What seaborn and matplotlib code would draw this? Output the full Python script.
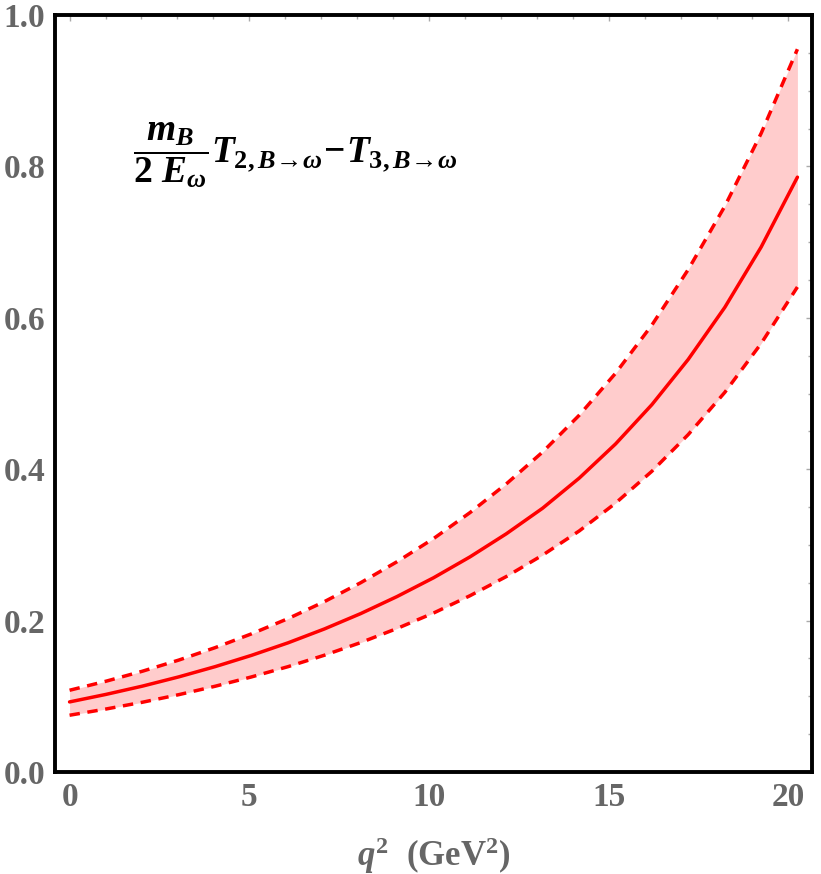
import numpy as np
import pandas as pd
import matplotlib
matplotlib.use("Agg")
import matplotlib.pyplot as plt
import seaborn as sns
from matplotlib.ticker import MultipleLocator

# q^2 points (GeV^2)
q2 = [0.0, 1.01, 2.03, 3.04, 4.05, 5.06, 6.08, 7.09, 8.1, 9.11, 10.13,
      11.14, 12.15, 13.16, 14.18, 15.19, 16.2, 17.21, 18.23, 19.24, 20.25]

central = [0.0926, 0.1025, 0.1135, 0.1257, 0.1392, 0.1541, 0.1707, 0.1890,
           0.2093, 0.2318, 0.2567, 0.2842, 0.3147, 0.3485, 0.3883, 0.4334,
           0.4853, 0.5450, 0.6139, 0.6935, 0.7859]
upper = [0.1080, 0.1199, 0.1332, 0.1479, 0.1643, 0.1825, 0.2027, 0.2251,
         0.2501, 0.2778, 0.3085, 0.3427, 0.3806, 0.4227, 0.4714, 0.5268,
         0.5904, 0.6637, 0.7475, 0.8437, 0.9550]
lower = [0.0750, 0.0832, 0.0922, 0.1022, 0.1133, 0.1256, 0.1392, 0.1543,
         0.1710, 0.1896, 0.2101, 0.2329, 0.2582, 0.2865, 0.3185, 0.3552,
         0.3973, 0.4457, 0.5016, 0.5661, 0.6408]

df = pd.DataFrame({"q2": q2, "central": central, "upper": upper, "lower": lower})

sns.set_style("white")
plt.rcParams["font.family"] = ["Liberation Serif", "DejaVu Serif"]
plt.rcParams["font.weight"] = "bold"
plt.rcParams["mathtext.fontset"] = "custom"
plt.rcParams["mathtext.rm"] = "Liberation Serif:bold"
plt.rcParams["mathtext.it"] = "Liberation Serif:italic:bold"
plt.rcParams["mathtext.bf"] = "Liberation Serif:bold"
plt.rcParams["mathtext.fallback"] = "stix"

fig = plt.figure(figsize=(8.21, 8.74), dpi=100)
ax = fig.add_axes([0.067, 0.1167, 0.922, 0.866])

red = "#ff0000"
ax.fill_between(df["q2"], df["lower"], df["upper"], color="#ffcccc", lw=0)
sns.lineplot(data=df, x="q2", y="central", color=red, lw=2.5, ax=ax)
sns.lineplot(data=df, x="q2", y="upper", color=red, lw=2.5, ax=ax)
ax.lines[-1].set_dashes((3.0, 2.2))
sns.lineplot(data=df, x="q2", y="lower", color=red, lw=2.5, ax=ax)
ax.lines[-1].set_dashes((3.0, 2.2))

ax.set_xlim(-0.405, 20.655)
ax.set_ylim(0, 1.0)
ax.xaxis.set_major_locator(MultipleLocator(5))
ax.xaxis.set_minor_locator(MultipleLocator(1))
ax.yaxis.set_major_locator(MultipleLocator(0.2))
ax.yaxis.set_minor_locator(MultipleLocator(0.05))
ax.yaxis.set_major_formatter(matplotlib.ticker.FormatStrFormatter("%.1f"))

ax.tick_params(which="both", direction="in", top=True, right=True,
               color="#aaaaaa", width=1)
ax.tick_params(which="major", length=4, labelsize=24, labelcolor="#666666", pad=7)
ax.tick_params(which="minor", length=3)
for lab in ax.get_xticklabels() + ax.get_yticklabels():
    lab.set_fontweight("bold")
for s in ax.spines.values():
    s.set_linewidth(2.8)
    s.set_color("black")

ax.set_xlabel(r"$q^2$  (GeV$^2$)", fontsize=25, color="#666666",
              fontweight="bold", labelpad=16)
ax.set_ylabel("")

ax.text(0.318, 0.815,
        r"$\dfrac{m_B}{2\ E_\omega}T_{2,B\!\rightarrow\!\omega}\!-\!T_{3,B\!\rightarrow\!\omega}$",
        transform=ax.transAxes, ha="center", va="center", fontsize=27,
        color="black", fontweight="bold")

fig.savefig("out.png", dpi=100)
